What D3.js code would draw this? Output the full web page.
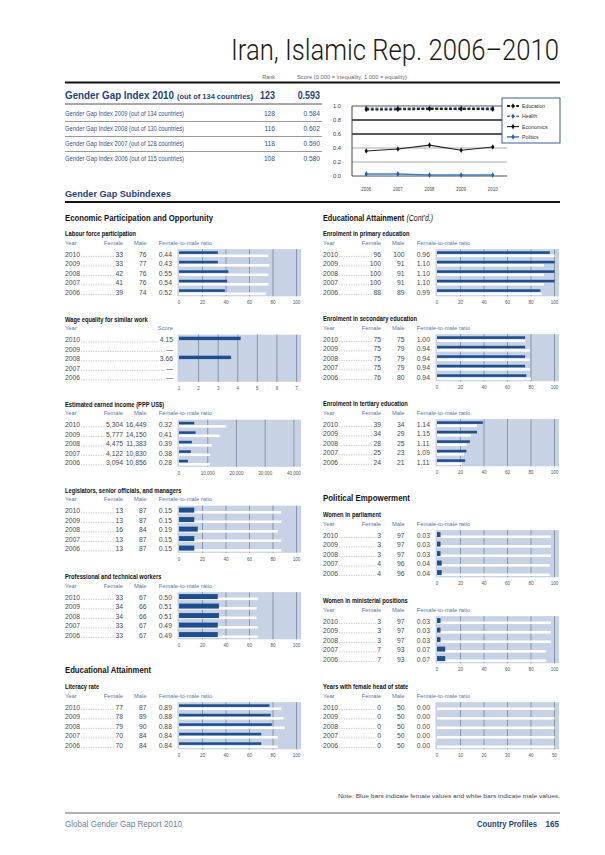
<!DOCTYPE html>
<html>
<head>
<meta charset="utf-8">
<script src="https://cdn.jsdelivr.net/npm/d3@7"></script>
<style>
  body { margin: 0; background: #fff; }
  svg { display: block; }
</style>
</head>
<body>
<svg id="page" width="605" height="855"></svg>
<script>
// Iran country profile -- Global Gender Gap Report 2010

///////////////////////////////////////////////////////////////////////////////
// Data

var rowYears = ["2010", "2009", "2008", "2007", "2006"];

// headline index table
var indexYears = ["2010", "2009", "2008", "2007", "2006"];
var indexCountries = [134, 134, 130, 128, 115];
var indexRanks = ["123", "128", "116", "118", "108"];
var indexScores = ["0.593", "0.584", "0.602", "0.590", "0.580"];

// subindex trend chart
var trendYears = ["2006", "2007", "2008", "2009", "2010"];
var educationScores = [0.950, 0.952, 0.958, 0.958, 0.954];
var healthScores = [0.970, 0.970, 0.971, 0.971, 0.971];
var economicsScores = [0.357, 0.385, 0.441, 0.368, 0.415];
var politicsScores = [0.030, 0.030, 0.013, 0.013, 0.014];
var trendTicks = [0, 0.2, 0.4, 0.6, 0.8, 1.0];

// bar panels (rows 2010 -> 2006)
var labourFemale = [33, 33, 42, 41, 39];
var labourMale = [76, 77, 76, 76, 74];
var labourRatio = ["0.44", "0.43", "0.55", "0.54", "0.52"];

var wageScore = [4.15, null, 3.66, null, null];

var incomeFemale = [5304, 5777, 4475, 4122, 3094];
var incomeMale = [16449, 14150, 11383, 10830, 10856];
var incomeRatio = ["0.32", "0.41", "0.39", "0.38", "0.28"];

var legislatorsFemale = [13, 13, 16, 13, 13];
var legislatorsMale = [87, 87, 84, 87, 87];
var legislatorsRatio = ["0.15", "0.15", "0.19", "0.15", "0.15"];

var professionalFemale = [33, 34, 34, 33, 33];
var professionalMale = [67, 66, 66, 67, 67];
var professionalRatio = ["0.50", "0.51", "0.51", "0.49", "0.49"];

var literacyFemale = [77, 78, 79, 70, 70];
var literacyMale = [87, 89, 90, 84, 84];
var literacyRatio = ["0.89", "0.88", "0.88", "0.84", "0.84"];

var primaryFemale = [96, 100, 100, 100, 88];
var primaryMale = [100, 91, 91, 91, 89];
var primaryRatio = ["0.96", "1.10", "1.10", "1.10", "0.99"];

var secondaryFemale = [75, 75, 75, 75, 76];
var secondaryMale = [75, 79, 79, 79, 80];
var secondaryRatio = ["1.00", "0.94", "0.94", "0.94", "0.94"];

var tertiaryFemale = [39, 34, 28, 25, 24];
var tertiaryMale = [34, 29, 25, 23, 21];
var tertiaryRatio = ["1.14", "1.15", "1.11", "1.09", "1.11"];

var parliamentFemale = [3, 3, 3, 4, 4];
var parliamentMale = [97, 97, 97, 96, 96];
var parliamentRatio = ["0.03", "0.03", "0.03", "0.04", "0.04"];

var ministersFemale = [3, 3, 3, 7, 7];
var ministersMale = [97, 97, 97, 93, 93];
var ministersRatio = ["0.03", "0.03", "0.03", "0.07", "0.07"];

var headFemale = [0, 0, 0, 0, 0];
var headMale = [50, 50, 50, 50, 50];
var headRatio = ["0.00", "0.00", "0.00", "0.00", "0.00"];

var pctTicks = [0, 20, 40, 60, 80, 100];
var wageTicks = [1, 2, 3, 4, 5, 6, 7];
var incomeTicks = [0, 10000, 20000, 30000, 40000];
var headTicks = [0, 10, 20, 30, 40, 50];

///////////////////////////////////////////////////////////////////////////////
// Helpers

var FONT = "'Liberation Sans', Arial, Helvetica, sans-serif";
var NAVY = "#1f3f78";
var FEMALE = "#1d4f8e";
var PANEL = "#c7d2e4";
var GRID = "#8694ae";

var svg = d3.select("#page");

// squeeze a text horizontally (the original uses a condensed face)
var squeeze = function (sel, k) {
  sel.each(function () {
    var w = this.getComputedTextLength();
    d3.select(this).attr("textLength", w * k).attr("lengthAdjust", "spacingAndGlyphs");
  });
  return sel;
};
var fit = function (sel, w) {
  return sel.attr("textLength", w).attr("lengthAdjust", "spacingAndGlyphs");
};
var text = function (g, x, y, str, size, opts) {
  opts = opts || {};
  return g.append("text")
    .attr("x", x).attr("y", y)
    .attr("font-family", opts.family || FONT)
    .attr("font-size", size)
    .attr("font-weight", opts.weight || "normal")
    .attr("font-style", opts.style || "normal")
    .attr("text-anchor", opts.anchor || "start")
    .attr("fill", opts.fill || "#333")
    .text(str);
};

///////////////////////////////////////////////////////////////////////////////
// Page title and headline table

text(svg, 559, 60, "Iran, Islamic Rep. 2006\u20132010", 29,
     {family: "Roboto, " + FONT, weight: 300, anchor: "end", fill: "#1a1a1a"})
  .call(fit, 328);

text(svg, 275, 78.5, "Rank", 5.5, {anchor: "end", fill: "#666"});
text(svg, 297, 78.5, "Score (0.000 = inequality, 1.000 = equality)", 5.5, {fill: "#666"}).call(fit, 110);

svg.append("line").attr("x1", 65).attr("x2", 560).attr("y1", 82.5).attr("y2", 82.5)
  .attr("stroke", "#111").attr("stroke-width", 2);

var tableY = [98.5, 116, 131, 146, 161];
indexYears.forEach(function (yr, i) {
  var y = tableY[i];
  if (i === 0) {
    text(svg, 65, y, "Gender Gap Index " + yr, 10.5, {weight: "bold", fill: NAVY}).call(fit, 109);
    text(svg, 177, y, "(out of " + indexCountries[i] + " countries)", 7.2, {weight: "bold", fill: NAVY}).call(fit, 76);
    text(svg, 275, y, indexRanks[i], 10.5, {weight: "bold", anchor: "end", fill: NAVY}).call(squeeze, 0.85);
    text(svg, 320, y, indexScores[i], 10.5, {weight: "bold", anchor: "end", fill: NAVY}).call(squeeze, 0.85);
  } else {
    text(svg, 65, y, "Gender Gap Index " + yr + " (out of " + indexCountries[i] + " countries)", 7.8,
         {fill: "#34548a"}).call(fit, 119);
    text(svg, 275, y, indexRanks[i], 7.8, {anchor: "end", fill: "#34548a"}).call(squeeze, 0.85);
    text(svg, 320, y, indexScores[i], 7.8, {anchor: "end", fill: "#34548a"}).call(squeeze, 0.85);
  }
  if (i < 4)
    svg.append("line").attr("x1", 65).attr("x2", 322).attr("y1", y + 5.5).attr("y2", y + 5.5)
      .attr("stroke", i === 0 ? "#555" : "#999").attr("stroke-width", 1);
});

///////////////////////////////////////////////////////////////////////////////
// Subindex trend chart

var trend = svg.append("g");
var tx = d3.scalePoint().domain(trendYears).range([352, 507]).padding(0.45);
var ty = d3.scaleLinear().domain([0, 1]).range([176, 106]);

trendTicks.forEach(function (t) {
  var dark = t >= 0.6 && t <= 0.8;
  trend.append("line").attr("x1", 352).attr("x2", 507).attr("y1", ty(t)).attr("y2", ty(t))
    .attr("stroke", dark ? "#222" : (t === 0 || t === 1 ? "#555" : "#aaa"))
    .attr("stroke-width", dark ? 1.5 : 1);
  text(trend, 341, ty(t) + 2, d3.format(".1f")(t), 5.8, {anchor: "end", fill: "#444"});
});
trend.append("line").attr("x1", 352).attr("x2", 352).attr("y1", 106).attr("y2", 176)
  .attr("stroke", "#444").attr("stroke-width", 1);

trendYears.forEach(function (yr) {
  text(trend, tx(yr), 190.5, yr, 5.2, {anchor: "middle", fill: "#444"}).call(squeeze, 0.85);
});

var series = [
  {name: "Education", values: educationScores, color: "#222", dash: "3,1.6", width: 2},
  {name: "Health", values: healthScores, color: "#4d79b4", dash: "3,1.6", width: 1.4},
  {name: "Economics", values: economicsScores, color: "#222", dash: null, width: 1.1},
  {name: "Politics", values: politicsScores, color: "#3f80c4", dash: null, width: 1.5}
];
var lineGen = d3.line().x(function (d) { return tx(d.year); }).y(function (d) { return ty(d.v); });
var marker = d3.symbol().type(d3.symbolDiamond).size(9);

// legend box first so the gridlines run under it
var legend = svg.append("g");
legend.append("rect").attr("x", 502).attr("y", 98).attr("width", 58).attr("height", 45)
  .attr("fill", "#fff").attr("stroke", "#3c5a96").attr("stroke-width", 1);

series.slice().reverse().forEach(function (s) {
  var pts = s.values.map(function (v, i) { return {year: trendYears[i], v: v}; });
  trend.append("path").datum(pts).attr("d", lineGen).attr("fill", "none")
    .attr("stroke", s.color).attr("stroke-width", s.width)
    .attr("stroke-dasharray", s.dash);
  trend.selectAll(null).data(pts).enter().append("path")
    .attr("d", marker)
    .attr("transform", function (d) { return "translate(" + tx(d.year) + "," + ty(d.v) + ")"; })
    .attr("fill", s.color === "#222" ? "#111" : "#2a5f9e");
});

series.forEach(function (s, i) {
  var y = 106 + i * 10.3;
  legend.append("line").attr("x1", 507).attr("x2", 519).attr("y1", y).attr("y2", y)
    .attr("stroke", s.color).attr("stroke-width", s.width).attr("stroke-dasharray", s.dash);
  legend.append("path").attr("d", marker).attr("transform", "translate(513," + y + ")")
    .attr("fill", s.color === "#222" ? "#111" : "#2a5f9e");
  text(legend, 522, y + 2, s.name, 5.8, {fill: "#333"}).call(squeeze, 0.9);
});

///////////////////////////////////////////////////////////////////////////////
// Subindex section headings

text(svg, 65, 196.5, "Gender Gap Subindexes", 9.8, {weight: "bold", fill: NAVY}).call(fit, 106);
svg.append("line").attr("x1", 65).attr("x2", 560).attr("y1", 202).attr("y2", 202)
  .attr("stroke", "#111").attr("stroke-width", 2);

text(svg, 65, 221, "Economic Participation and Opportunity", 9, {weight: "bold", fill: "#111"}).call(fit, 148);
text(svg, 65, 672.5, "Educational Attainment", 9, {weight: "bold", fill: "#111"}).call(fit, 86);

// bold + italic heading: natural widths inside a horizontally scaled group
var contd = svg.append("g");
var contdBold = text(contd, 0, 0, "Educational Attainment", 9, {weight: "bold", fill: "#111"});
var boldW = contdBold.node().getComputedTextLength();
var contdItal = text(contd, boldW + 3, 0, "(Cont\u2019d.)", 8.5, {style: "italic", fill: "#111"});
var totalW = boldW + 3 + contdItal.node().getComputedTextLength();
contd.attr("transform", "translate(323,221) scale(" + (110 / totalW) + ",1)");

text(svg, 323, 501, "Political Empowerment", 9, {weight: "bold", fill: "#111"}).call(fit, 87);

///////////////////////////////////////////////////////////////////////////////
// Bar panels

var colX = [65, 323];

var panels = [
  {col: 0, top: 236, title: "Labour force participation", female: labourFemale, male: labourMale, ratio: labourRatio, ticks: pctTicks, max: 100},
  {col: 0, top: 321.5, title: "Wage equality for similar work", score: wageScore, ticks: wageTicks, max: 7},
  {col: 0, top: 406.5, title: "Estimated earned income (PPP US$)", female: incomeFemale, male: incomeMale, ratio: incomeRatio, ticks: incomeTicks, max: 40900, money: true},
  {col: 0, top: 492.5, title: "Legislators, senior officials, and managers", female: legislatorsFemale, male: legislatorsMale, ratio: legislatorsRatio, ticks: pctTicks, max: 100, thick: true},
  {col: 0, top: 579, title: "Professional and technical workers", female: professionalFemale, male: professionalMale, ratio: professionalRatio, ticks: pctTicks, max: 100, thick: true},
  {col: 0, top: 689, title: "Literacy rate", female: literacyFemale, male: literacyMale, ratio: literacyRatio, ticks: pctTicks, max: 100},
  {col: 1, top: 236, title: "Enrolment in primary education", female: primaryFemale, male: primaryMale, ratio: primaryRatio, ticks: pctTicks, max: 100},
  {col: 1, top: 321, title: "Enrolment in secondary education", female: secondaryFemale, male: secondaryMale, ratio: secondaryRatio, ticks: pctTicks, max: 100},
  {col: 1, top: 406, title: "Enrolment in tertiary education", female: tertiaryFemale, male: tertiaryMale, ratio: tertiaryRatio, ticks: pctTicks, max: 100},
  {col: 1, top: 517, title: "Women in parliament", female: parliamentFemale, male: parliamentMale, ratio: parliamentRatio, ticks: pctTicks, max: 100, thick: true},
  {col: 1, top: 603, title: "Women in ministerial positions", female: ministersFemale, male: ministersMale, ratio: ministersRatio, ticks: pctTicks, max: 100, thick: true},
  {col: 1, top: 689, title: "Years with female head of state", female: headFemale, male: headMale, ratio: headRatio, ticks: headTicks, max: 50}
];

var drawPanel = function (p) {
  var x0 = colX[p.col];
  var g = svg.append("g");
  var rowY = function (i) { return p.top + 17.5 + i * 9.5; };
  var x = d3.scaleLinear().domain([p.ticks[0], p.max]).range([x0 + 114, x0 + 231.5]);
  var fmt = p.money ? d3.format(",") : function (v) { return String(v); };
  var headFill = "#5877a6";

  text(g, x0, p.top, p.title, 7, {weight: "bold", fill: "#111"}).call(squeeze, 0.82);

  var hy = p.top + 8.7;
  text(g, x0, hy, "Year", 5.8, {fill: headFill});
  if (p.score) {
    text(g, x0 + 108, hy, "Score", 5.8, {anchor: "end", fill: headFill});
  } else {
    text(g, x0 + 58, hy, "Female", 5.8, {anchor: "end", fill: headFill});
    text(g, x0 + 81.5, hy, "Male", 5.8, {anchor: "end", fill: headFill});
    text(g, x0 + 93.7, hy, "Female-to-male ratio", 5.8, {fill: headFill});
  }

  // panel background
  g.append("rect")
    .attr("x", x.range()[0] - 1.5).attr("y", rowY(0) - 4.3)
    .attr("width", x.range()[1] - x.range()[0] + 6)
    .attr("height", rowY(4) - rowY(0) + 9.1)
    .attr("fill", PANEL);

  // gridlines
  g.selectAll(null).data(p.ticks.slice(1)).enter().append("line")
    .attr("x1", function (t) { return x(t); }).attr("x2", function (t) { return x(t); })
    .attr("y1", rowY(0) - 4.3).attr("y2", rowY(4) + 4.8)
    .attr("stroke", GRID).attr("stroke-width", 1);

  // bars
  rowYears.forEach(function (yr, i) {
    var c = rowY(i);
    if (p.score) {
      if (p.score[i] !== null)
        g.append("rect").attr("x", x(p.ticks[0])).attr("y", c - 2.3)
          .attr("width", x(p.score[i]) - x(p.ticks[0])).attr("height", 3.4).attr("fill", FEMALE);
      return;
    }
    g.append("rect").attr("x", x(0)).attr("y", c + 1.0)
      .attr("width", x(p.male[i]) - x(0)).attr("height", 2.6).attr("fill", "#fff");
    if (p.female[i] > 0)
      g.append("rect").attr("x", x(0)).attr("y", p.thick ? c - 2.4 : c - 2.2)
        .attr("width", x(p.female[i]) - x(0)).attr("height", p.thick ? 5 : 2.6).attr("fill", FEMALE);
  });

  // axis labels
  g.selectAll(null).data(p.ticks).enter().append("text")
    .attr("x", function (t) { return x(t); }).attr("y", rowY(4) + 12.5)
    .attr("font-family", FONT).attr("font-size", 5.4).attr("text-anchor", "middle")
    .attr("fill", "#555").text(function (t) { return fmt(t); })
    .call(squeeze, 0.85);

  // row texts with dotted leaders
  rowYears.forEach(function (yr, i) {
    var by = rowY(i) + 3.2;
    var yt = text(g, x0, by, yr, 6.8, {fill: "#4a4a4a"});
    var lead, valueEnd;
    if (p.score) {
      lead = text(g, x0 + 108, by, p.score[i] === null ? "\u2014" : d3.format(".2f")(p.score[i]), 6.8,
                  {anchor: "end", fill: "#4a4a4a"});
      valueEnd = x0 + 108;
    } else {
      lead = text(g, x0 + 58, by, fmt(p.female[i]), 6.8, {anchor: "end", fill: "#4a4a4a"});
      valueEnd = x0 + 58;
      text(g, x0 + 81.5, by, fmt(p.male[i]), 6.8, {anchor: "end", fill: "#4a4a4a"});
      text(g, x0 + 93.7, by, p.ratio[i], 6.8, {fill: "#4a4a4a"});
    }
    var startX = x0 + yt.node().getComputedTextLength() + 1;
    var endX = valueEnd - lead.node().getComputedTextLength() - 0.8;
    g.append("line").attr("x1", startX).attr("x2", endX).attr("y1", by - 0.3).attr("y2", by - 0.3)
      .attr("stroke", "#777").attr("stroke-width", 0.6).attr("stroke-dasharray", "0.6,1.1");
  });
};

panels.forEach(drawPanel);

///////////////////////////////////////////////////////////////////////////////
// Note and footer

text(svg, 560, 798, "Note: Blue bars indicate female values and white bars indicate male values.", 5.5,
     {anchor: "end", fill: "#444"}).call(fit, 222);

svg.append("line").attr("x1", 65).attr("x2", 560).attr("y1", 813).attr("y2", 813)
  .attr("stroke", "#666").attr("stroke-width", 1);

text(svg, 65, 826.5, "Global Gender Gap Report 2010", 8.5, {fill: "#6a7fa3"}).call(fit, 117);
text(svg, 537, 826.5, "Country Profiles", 8.5, {weight: "bold", anchor: "end", fill: NAVY}).call(fit, 60);
text(svg, 559, 826.5, "165", 9.5, {weight: "bold", anchor: "end", fill: NAVY}).call(fit, 13.5);
</script>
</body>
</html>
